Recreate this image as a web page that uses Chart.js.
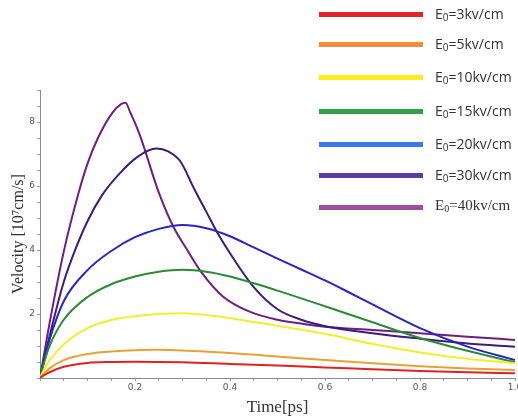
<!DOCTYPE html>
<html lang="en">
  <head>
    <meta charset="UTF-8" />
    <script src="https://cdn.jsdelivr.net/npm/chart.js@4.4.1/dist/chart.umd.min.js"></script>
    <title>Velocity vs time</title>
    <style>
      html, body { margin: 0; padding: 0; background: #fff; }
      .wrap { position: relative; width: 518px; height: 420px; }
      .legend { position: absolute; left: 0; top: 0; }
      .row { position: absolute; left: 319px; height: 0; }
      .row .ln { position: absolute; left: 0; top: -2px; width: 104px; height: 5px; }
      .row .tx { position: absolute; left: 116px; top: -10px; font: 14px "Open Sans", sans-serif; color: #333; white-space: nowrap; line-height: 20px; }
      .row .tx.serif { font: 15px "Liberation Serif", serif; }
      .row sub { font-size: 10px; vertical-align: -2px; line-height: 0; }
    </style>
  </head>
  <body>
    <div class="wrap">
      <canvas id="myChart" width="518" height="420"></canvas>
      <div class="legend" id="legend"></div>
    </div>

    <script>
      // field strengths (legend labels)
      var fields = ["3", "5", "10", "15", "20", "30", "40"];

      // time [ps] and velocity [10^7 cm/s]
      var t3 = [0, 0.01, 0.02, 0.05, 0.1, 0.15, 0.2, 0.3, 0.4, 0.5, 0.6, 0.7, 0.8, 0.9, 1.0];
      var v3 = [0, 0.1, 0.18, 0.35, 0.47, 0.5, 0.51, 0.49, 0.44, 0.39, 0.33, 0.27, 0.22, 0.18, 0.15];

      var t5 = [0, 0.01, 0.02, 0.05, 0.1, 0.15, 0.2, 0.25, 0.3, 0.4, 0.5, 0.6, 0.7, 0.8, 0.9, 1.0];
      var v5 = [0, 0.16, 0.3, 0.56, 0.75, 0.83, 0.87, 0.88, 0.86, 0.78, 0.67, 0.56, 0.46, 0.37, 0.3, 0.25];

      var t10 = [0, 0.01, 0.02, 0.05, 0.1, 0.15, 0.2, 0.25, 0.3, 0.35, 0.4, 0.5, 0.6, 0.7, 0.8, 0.9, 1.0];
      var v10 = [0, 0.3, 0.55, 1.05, 1.56, 1.81, 1.93, 2.0, 2.02, 1.97, 1.87, 1.63, 1.38, 1.06, 0.8, 0.6, 0.46];

      var t15 = [0, 0.01, 0.02, 0.05, 0.1, 0.15, 0.2, 0.25, 0.3, 0.35, 0.4, 0.45, 0.5, 0.6, 0.7, 0.8, 0.9, 1.0];
      var v15 = [0, 0.55, 1.0, 1.82, 2.53, 2.93, 3.17, 3.32, 3.38, 3.32, 3.17, 2.96, 2.73, 2.24, 1.74, 1.25, 0.85, 0.49];

      var t20 = [0, 0.01, 0.02, 0.05, 0.1, 0.15, 0.2, 0.25, 0.3, 0.35, 0.4, 0.45, 0.5, 0.55, 0.6, 0.65, 0.7, 0.8, 0.9, 1.0];
      var v20 = [0, 0.65, 1.2, 2.4, 3.37, 3.97, 4.4, 4.66, 4.78, 4.68, 4.43, 4.08, 3.73, 3.39, 3.05, 2.68, 2.3, 1.56, 0.98, 0.56];

      var t30 = [0, 0.02, 0.05, 0.07, 0.1, 0.13, 0.165, 0.206, 0.245, 0.27, 0.295, 0.325, 0.35, 0.375, 0.4, 0.45, 0.5, 0.55, 0.6, 0.7, 0.8, 0.9, 1.0];
      var v30 = [0, 1.3, 3.0, 3.85, 4.9, 5.7, 6.35, 6.92, 7.17, 7.08, 6.78, 5.9, 5.2, 4.5, 3.9, 2.84, 2.15, 1.82, 1.62, 1.4, 1.23, 1.08, 0.98];

      var t40 = [0, 0.02, 0.05, 0.08, 0.1, 0.122, 0.153, 0.17, 0.18, 0.19, 0.21, 0.25, 0.28, 0.31, 0.34, 0.385, 0.44, 0.5, 0.55, 0.6, 0.7, 0.8, 0.9, 1.0];
      var v40 = [0, 1.7, 3.95, 5.72, 6.7, 7.5, 8.3, 8.55, 8.6, 8.3, 7.6, 5.8, 4.75, 4.0, 3.3, 2.55, 2.08, 1.82, 1.7, 1.6, 1.5, 1.4, 1.29, 1.19];

      var times = [t3, t5, t10, t15, t20, t30, t40];
      var vels = [v3, v5, v10, v15, v20, v30, v40];

      var lineColors = ["#e02222", "#e9a034", "#f3ef2c", "#2a8c32", "#2626c4", "#3c1c78", "#6e1e80"];
      var legendColors = ["#e0242a", "#f08c3c", "#f7ee1e", "#30a04a", "#3c78e6", "#5a3ca8", "#a04ca0"];
      var legendY = [14, 44, 77, 111, 144, 175, 207];

      var datasets = [];
      for (var i = 0; i < fields.length; i++) {
        var pts = [];
        for (var j = 0; j < times[i].length; j++) {
          pts.push({ x: times[i][j], y: vels[i][j] });
        }
        datasets.push({
          label: "E0=" + fields[i] + "kv/cm",
          data: pts,
          borderColor: lineColors[i],
          backgroundColor: lineColors[i],
          borderWidth: 2,
          pointRadius: 0,
          fill: false,
          cubicInterpolationMode: "monotone",
        });
      }

      // legend drawn as html over the canvas
      var lg = document.getElementById("legend");
      for (var k = 0; k < fields.length; k++) {
        var row = document.createElement("div");
        row.className = "row";
        row.style.top = legendY[k] + "px";
        var cls = k == fields.length - 1 ? "tx serif" : "tx";
        row.innerHTML =
          '<div class="ln" style="background:' + legendColors[k] + '"></div>' +
          '<div class="' + cls + '">E<sub>0</sub>=' + fields[k] + "kv/cm</div>";
        lg.appendChild(row);
      }

      function near(v, step) {
        return Math.abs(v / step - Math.round(v / step)) < 1e-6;
      }

      var c = new Chart("myChart", {
        type: "line",
        data: { datasets: datasets },
        options: {
          responsive: false,
          animation: false,
          layout: { padding: { top: 90, right: 3, left: 0, bottom: 0 } },
          plugins: { legend: { display: false }, tooltip: { enabled: false } },
          scales: {
            x: {
              type: "linear",
              min: 0,
              max: 1,
              border: { color: "#8a8a8a", width: 1 },
              grid: { drawOnChartArea: false, tickLength: 3, tickColor: "#9a9a9a" },
              ticks: {
                stepSize: 0.05,
                autoSkip: false,
                maxRotation: 0,
                padding: 1,
                color: "#555",
                font: { family: "DejaVu Sans", size: 9 },
                callback: function (v) {
                  if (v > 0 && near(v, 0.2)) return v.toFixed(1);
                  return "";
                },
              },
              title: {
                display: true,
                text: "Time[ps]",
                color: "#333",
                font: { family: "Liberation Serif", size: 17 },
                padding: { top: 2, bottom: 2 },
              },
              afterFit: function (s) {
                s.height = 42;
                s.paddingLeft = 0;
                s.paddingRight = 0;
              },
            },
            y: {
              min: 0,
              max: 9,
              border: { color: "#8a8a8a", width: 1 },
              grid: { drawOnChartArea: false, tickLength: 3, tickColor: "#9a9a9a" },
              ticks: {
                stepSize: 0.5,
                autoSkip: false,
                padding: 2,
                color: "#555",
                font: { family: "DejaVu Sans", size: 9 },
                callback: function (v) {
                  if (v > 0 && near(v, 2)) return String(v);
                  return "";
                },
              },
              title: {
                display: true,
                text: "Velocity [10\u2077cm/s]",
                color: "#333",
                font: { family: "Liberation Serif", size: 16 },
                padding: { top: 9, bottom: 2 },
              },
              afterFit: function (s) {
                s.width = 40;
              },
            },
          },
        },
      });
    </script>
  </body>
</html>
